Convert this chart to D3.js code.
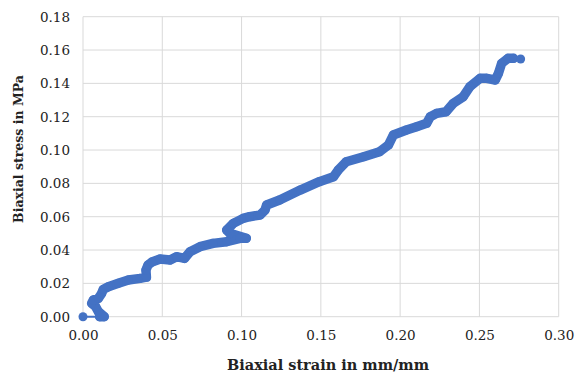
<!DOCTYPE html>
<html>
<head>
<meta charset="utf-8">
<script src="https://cdn.jsdelivr.net/npm/d3@7"></script>
<style>
  body { margin: 0; background: #fff; }
  svg text { font-family: "DejaVu Serif", serif; fill: #222; }
</style>
</head>
<body>
<svg id="chart" width="586" height="378"></svg>
<script>
// values
const strain = [0.000, 0.0105, 0.0134, 0.0097, 0.008, 0.0055, 0.0065, 0.0097, 0.0118, 0.0128,
  0.016, 0.0223, 0.0286, 0.036, 0.040, 0.0397, 0.041, 0.0435, 0.0486, 0.0549,
  0.059, 0.064, 0.0675, 0.0738, 0.082, 0.0906, 0.099, 0.103, 0.0927, 0.0906,
  0.0948, 0.101, 0.105, 0.1116, 0.1148, 0.1158, 0.124, 0.137, 0.149, 0.158,
  0.161, 0.166, 0.177, 0.187, 0.1926, 0.1957, 0.204, 0.2104, 0.2167, 0.219,
  0.223, 0.229, 0.2335, 0.2398, 0.244, 0.2504, 0.2546, 0.26, 0.262, 0.264,
  0.268, 0.2715, 0.276];
const stress = [0.000, 0.000, 0.000, 0.003, 0.006, 0.008, 0.010, 0.011, 0.014, 0.0164,
  0.018, 0.020, 0.022, 0.023, 0.0237, 0.028, 0.031, 0.0328, 0.0346, 0.034,
  0.036, 0.035, 0.039, 0.042, 0.044, 0.045, 0.047, 0.047, 0.050, 0.052,
  0.056, 0.059, 0.060, 0.061, 0.064, 0.067, 0.070, 0.076, 0.081, 0.084,
  0.088, 0.093, 0.096, 0.099, 0.103, 0.109, 0.112, 0.114, 0.116, 0.120,
  0.122, 0.123, 0.128, 0.132, 0.138, 0.143, 0.143, 0.142, 0.146, 0.152,
  0.155, 0.155, 0.1546];
const xTicks = [0, 0.05, 0.10, 0.15, 0.20, 0.25, 0.30];
const yTicks = [0, 0.02, 0.04, 0.06, 0.08, 0.10, 0.12, 0.14, 0.16, 0.18];
const xTitle = "Biaxial strain in mm/mm";
const yTitle = "Biaxial stress in MPa";

const margin = { left: 83, top: 16.7, right: 27.3, bottom: 61.3 };
const width = 586 - margin.left - margin.right;
const height = 378 - margin.top - margin.bottom;
const blue = "#4472c4";

const svg = d3.select("#chart");
const g = svg.append("g")
  .attr("transform", "translate(" + margin.left + "," + margin.top + ")");

const x = d3.scaleLinear().domain([0, 0.30]).range([0, width]);
const y = d3.scaleLinear().domain([0, 0.18]).range([height, 0]);

// gridlines
g.append("g")
  .selectAll("line")
  .data(yTicks)
  .enter().append("line")
  .attr("x1", 0).attr("x2", width)
  .attr("y1", d => y(d)).attr("y2", d => y(d))
  .attr("stroke", "#d9d9d9");
g.append("g")
  .selectAll("line")
  .data(xTicks)
  .enter().append("line")
  .attr("y1", 0).attr("y2", height)
  .attr("x1", d => x(d)).attr("x2", d => x(d))
  .attr("stroke", "#d9d9d9");

// axes (labels only)
const xAxis = g.append("g")
  .attr("transform", "translate(0," + height + ")")
  .call(d3.axisBottom(x).tickValues(xTicks).tickFormat(d3.format(".2f")).tickSize(0).tickPadding(14));
const yAxis = g.append("g")
  .call(d3.axisLeft(y).tickValues(yTicks).tickFormat(d3.format(".2f")).tickSize(0).tickPadding(13));
[xAxis, yAxis].forEach(a => {
  a.select(".domain").remove();
  a.selectAll("text")
    .attr("font-family", "DejaVu Serif")
    .attr("font-size", 13.5)
    .attr("fill", "#222");
});

const pts = strain.map((s, i) => [s, stress[i]]);

// thin connecting line
const line = d3.line().x(d => x(d[0])).y(d => y(d[1]));
g.append("path")
  .attr("d", line(pts))
  .attr("fill", "none")
  .attr("stroke", blue)
  .attr("stroke-width", 2);

// dense marker band
g.append("path")
  .attr("d", line(pts.slice(1, pts.length - 1)))
  .attr("fill", "none")
  .attr("stroke", blue)
  .attr("stroke-width", 9.5)
  .attr("stroke-linejoin", "round")
  .attr("stroke-linecap", "round");

g.append("g")
  .selectAll("circle")
  .data(pts)
  .enter().append("circle")
  .attr("cx", d => x(d[0]))
  .attr("cy", d => y(d[1]))
  .attr("r", 4.5)
  .attr("fill", blue);

// axis titles
svg.append("text")
  .attr("x", 328)
  .attr("y", 370)
  .attr("text-anchor", "middle")
  .attr("font-weight", "bold")
  .attr("font-size", 14.5)
  .text(xTitle);
svg.append("text")
  .attr("transform", "translate(23,149) rotate(-90)")
  .attr("text-anchor", "middle")
  .attr("font-weight", "bold")
  .attr("font-size", 12.5)
  .text(yTitle);
</script>
</body>
</html>
